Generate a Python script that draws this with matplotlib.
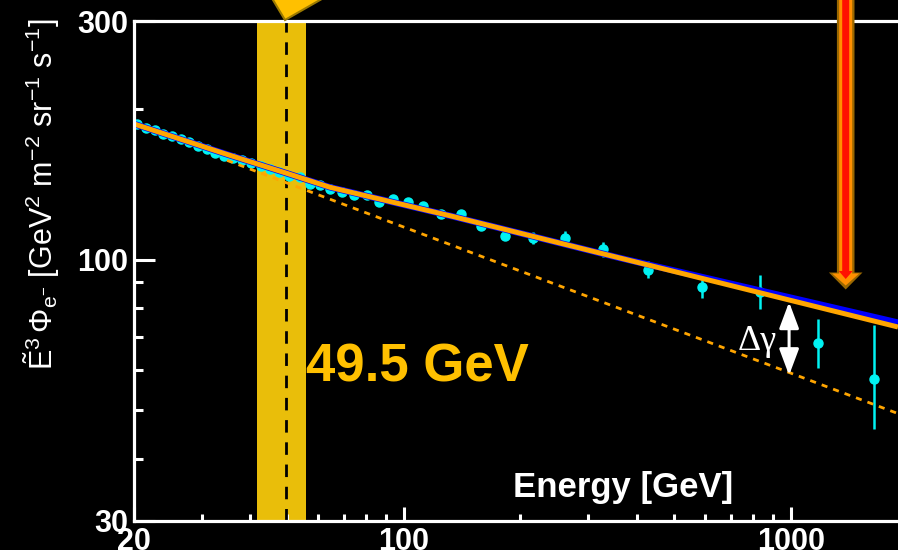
import matplotlib
matplotlib.use("Agg")
import matplotlib.pyplot as plt
from matplotlib.patches import Polygon
from matplotlib.ticker import FixedLocator, NullFormatter

plt.rcParams['font.family'] = ['Liberation Sans', 'DejaVu Sans']
plt.rcParams['mathtext.fontset'] = 'custom'
plt.rcParams['mathtext.rm'] = 'Liberation Sans'
plt.rcParams['mathtext.it'] = 'Liberation Sans:italic'
plt.rcParams['mathtext.bf'] = 'Liberation Sans:bold'

# dados (E^3 * fluxo de eletrons)
energy = [20.4, 21.6, 22.7, 23.9, 25.2, 26.5, 27.9, 29.4, 30.9, 32.5, 34.3,
          36.2, 38.2, 40.3, 42.6, 45.1, 47.6, 50.6, 54.0, 57.2, 60.8, 64.6,
          69.3, 74.4, 80.1, 86.3, 93.8, 102.2, 112.2, 124.8, 140.1, 158.1,
          182.4, 215.9, 261.1, 326.2, 427.7, 587.9, 831.6, 1177, 1642]
flux = [187.0, 183.6, 181.4, 178.6, 176.4, 174.2, 171.6, 168.5, 166.4, 163.6,
        161.4, 159.9, 157.9, 156.0, 153.7, 151.8, 149.5, 147.2, 146.1, 141.7,
        141.0, 138.6, 136.8, 134.7, 134.5, 130.4, 132.2, 130.4, 127.8, 123.2,
        123.6, 116.7, 111.6, 110.4, 110.6, 104.9, 95.5, 88.1, 86.1, 68.1, 57.8]
err_down = [0.4, 0.4, 0.4, 0.4, 0.4, 0.4, 0.4, 0.4, 0.5, 0.5, 0.5, 0.5, 0.5,
            0.5, 0.5, 0.6, 0.6, 0.6, 0.6, 0.7, 0.7, 0.7, 0.8, 0.8, 0.9, 0.9,
            1.0, 1.0, 1.1, 1.2, 1.3, 1.5, 2.0, 2.8, 3.0, 3.7, 3.8, 4.4, 6.6,
            7.5, 11.9]
err_up = [0.4, 0.4, 0.4, 0.4, 0.4, 0.4, 0.4, 0.4, 0.5, 0.5, 0.5, 0.5, 0.5,
          0.5, 0.5, 0.6, 0.6, 0.6, 0.6, 0.7, 0.7, 0.7, 0.8, 0.8, 0.9, 0.9,
          1.0, 1.0, 1.1, 1.2, 1.3, 1.5, 2.0, 3.1, 3.4, 3.5, 3.7, 3.2, 6.9,
          7.8, 16.1]

# ajuste com quebra (laranja) e ajuste alternativo (azul)
fit_e = [20, 34.9, 49.5, 64.4, 131.9, 360.2, 1893]
fit_f = [186.9, 162.3, 149.0, 139.5, 122.3, 100.8, 73.3]
blue_e = [20, 34.9, 49.5, 64.4, 131.9, 360.2, 1893]
blue_f = [186.9, 162.3, 149.0, 139.5, 122.3, 100.8, 74.8]
# extrapolacao sem endurecimento (tracejada)
low_e = [34.9, 1893]
low_f = [157.9, 49.2]

e_break = 49.5
band = (41.8, 56.0)
dgamma_e = 990
dgamma_f = (82.2, 58.7)

x_ticks = [20, 100, 1000]
x_minor = [30, 40, 50, 60, 70, 80, 90, 200, 300, 400, 500, 600, 700, 800, 900]
y_ticks = [30, 100, 300]
y_minor = [40, 50, 60, 70, 80, 90, 200]

W, H = 898, 550


def px(x, y):
    """Converte pixels (origem no topo) para fracao da figura."""
    return (x / W, 1 - y / H)


fig = plt.figure(figsize=(W / 100, H / 100), dpi=100, facecolor='black')
ax = fig.add_axes([133.5 / W, 1 - 521 / H, (W - 133.5) / W, 500 / H])
ax.set_facecolor('black')
ax.set_xscale('log')
ax.set_yscale('log')
ax.set_xlim(20, 1893)
ax.set_ylim(30, 300)

ax.axvspan(band[0], band[1], color='#E9BE0A', lw=0, zorder=1)
ax.axvline(e_break, color='black', lw=2, dashes=(4.5, 3.5), zorder=2)

ax.errorbar(energy, flux, yerr=[err_down, err_up], fmt='o', color='#00F2F2',
            ms=6.5, elinewidth=1.8, capsize=0, zorder=3)
ax.plot(blue_e, blue_f, color='#0000FF', lw=4.6, zorder=4,
        solid_capstyle='butt')
ax.plot(fit_e, fit_f, color='#FFA500', lw=3.6, zorder=5,
        solid_capstyle='butt')
ax.plot(low_e, low_f, color='#FFA500', lw=2.0, dashes=(2.2, 2.2), zorder=5)

ax.annotate('', xy=(dgamma_e, dgamma_f[0]), xytext=(dgamma_e, dgamma_f[1]),
            arrowprops=dict(arrowstyle='<|-|>,head_length=0.8,head_width=0.3',
                            mutation_scale=20, color='white', lw=2.2,
                            shrinkA=0, shrinkB=0), zorder=6)
fig.text(*px(738, 350), '\u0394\u03b3', color='white', fontsize=26,
         family='Liberation Serif', ha='left', va='baseline')

for side in ['left', 'bottom', 'top']:
    ax.spines[side].set_color('white')
    ax.spines[side].set_linewidth(2.3)
    ax.spines[side].set_zorder(7)
ax.spines['right'].set_visible(False)

ax.xaxis.set_major_locator(FixedLocator(x_ticks))
ax.xaxis.set_minor_locator(FixedLocator(x_minor))
ax.yaxis.set_major_locator(FixedLocator(y_ticks))
ax.yaxis.set_minor_locator(FixedLocator(y_minor))
ax.set_xticklabels([str(t) for t in x_ticks])
ax.set_yticklabels([str(t) for t in y_ticks])
ax.xaxis.set_minor_formatter(NullFormatter())
ax.yaxis.set_minor_formatter(NullFormatter())

ax.tick_params(axis='x', which='major', direction='in', length=10, width=2.2,
               color='white', labelcolor='white', labelsize=22, pad=4,
               top=False)
ax.tick_params(axis='x', which='minor', direction='in', length=5, width=2.2,
               color='white', top=False)
ax.tick_params(axis='y', which='major', direction='in', length=15, width=2.2,
               color='white', labelcolor='white', labelsize=22, pad=4,
               right=False)
ax.tick_params(axis='y', which='minor', direction='in', length=6.5, width=2.2,
               color='white', right=False)
for lab in ax.get_xticklabels() + ax.get_yticklabels():
    lab.set_fontweight('bold')

fig.text(*px(623, 497), 'Energy [GeV]', color='white', fontsize=25,
         fontweight='bold', ha='center', va='baseline')
fig.text(*px(306, 381), '49.5 GeV', color='#FFC000', fontsize=38,
         fontweight='bold', ha='left', va='baseline')
fig.text(*px(42, 194),
         r'$\tilde{\mathrm{E}}^{3}\,\Phi_{\mathrm{e}^{-}}$ [GeV$^{2}$ m$^{-2}$ sr$^{-1}$ s$^{-1}$]',
         color='white', fontsize=22, rotation=90, ha='center', va='center')

# seta dourada no topo (apontando para a quebra)
seta_topo = [px(285, 20), px(261, -20), px(355, -20)]
fig.add_artist(Polygon(seta_topo, closed=True, facecolor='#FFC000',
                       edgecolor='#9C7A00', lw=1.5, transform=fig.transFigure))


# seta vermelha vertical na direita
def seta_vertical(xc, half_shaft, half_head, y_base, y_tip):
    return [px(xc - half_shaft, -10), px(xc + half_shaft, -10),
            px(xc + half_shaft, y_base), px(xc + half_head, y_base),
            px(xc, y_tip), px(xc - half_head, y_base),
            px(xc - half_shaft, y_base)]


for hs, hh, yb, yt, cor in [(8.8, 16.8, 272.5, 289.5, '#9A6800'),
                            (6.5, 13.5, 273.5, 285.5, '#FF9000'),
                            (3.5, 7.0, 271, 279, '#FF1000')]:
    fig.add_artist(Polygon(seta_vertical(845.7, hs, hh, yb, yt), closed=True,
                           facecolor=cor, edgecolor='none',
                           transform=fig.transFigure, zorder=8))

fig.savefig('out.png', dpi=100, facecolor='black')
